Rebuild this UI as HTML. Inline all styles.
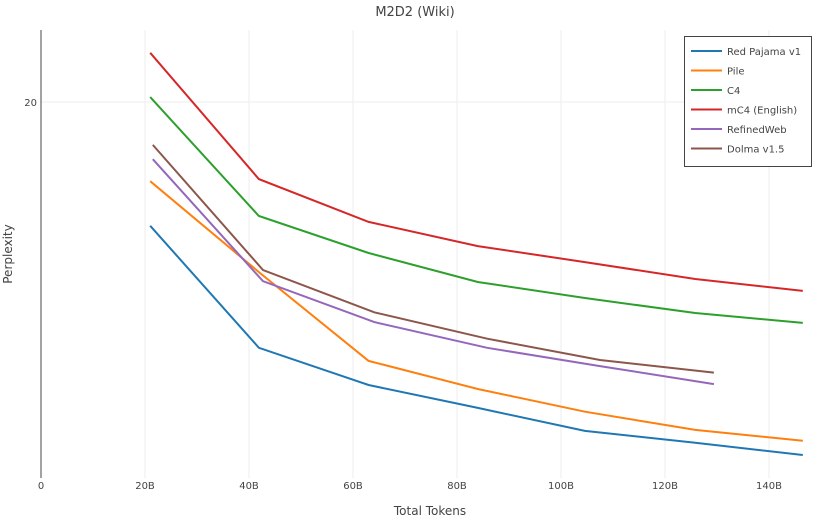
<!DOCTYPE html>
<html><head><meta charset="utf-8"><style>
body{margin:0;background:#fff;font-family:"DejaVu Sans",sans-serif;}
svg text{font-family:"DejaVu Sans",sans-serif;fill:#444;}
</style></head><body>
<svg id="chart" width="830" height="519"></svg>
<script>
const seriesNames=["Red Pajama v1","Pile","C4","mC4 (English)","RefinedWeb","Dolma v1.5"];
const colors=["#1f77b4","#ff7f0e","#2ca02c","#d62728","#9467bd","#8c564b"];
const xStd=[21,41.9,63,84,104.6,125.8,146.5];
const xShort=[21.5,42.7,64.1,85.8,107.5,129.4];
const rpVals=[15.77,12.48,11.62,11.12,10.64,10.40,10.16];
const pileVals=[17.18,14.43,12.17,11.53,11.04,10.66,10.44];
const c4Vals=[20.19,16.07,14.97,14.16,13.73,13.34,13.09];
const mc4Vals=[21.98,17.25,15.89,15.17,14.71,14.24,13.92];
const rwVals=[17.92,14.18,13.11,12.48,12.05,11.64];
const dolmaVals=[18.42,14.49,13.36,12.70,12.19,11.90];
const xTicks=[0,20,40,60,80,100,120,140];
const xTickLabels=["0","20B","40B","60B","80B","100B","120B","140B"];
const yTicks=[20];
const yTickLabels=["20"];
const NS="http://www.w3.org/2000/svg";
const svg=document.getElementById('chart');
const X=v=>41+v*5.2;
const Y=v=>102-1200*Math.log10(v/20);
function mk(t,a){const e=document.createElementNS(NS,t);for(const k in a)e.setAttribute(k,a[k]);svg.appendChild(e);return e;}
xTicks.forEach((t,i)=>{
 if(t>0){const g=mk('line',{x1:X(t),x2:X(t),y1:30,y2:478,stroke:'#eee','stroke-width':1});
 
 }
 const l=mk('text',{x:X(t),y:489,'font-size':10,'text-anchor':'middle'});l.textContent=xTickLabels[i];
 
 
});
yTicks.forEach((t,i)=>{
 const g=mk('line',{x1:41,x2:812,y1:Y(t),y2:Y(t),stroke:'#eee','stroke-width':1});
 
 
 const l=mk('text',{x:37,y:Y(t)+4,'font-size':10,'text-anchor':'end'});l.textContent=yTickLabels[i];
 
 
});
const ax=mk('line',{x1:41,x2:41,y1:30,y2:478,stroke:'#444','stroke-width':1});


const allVals=[rpVals,pileVals,c4Vals,mc4Vals,rwVals,dolmaVals];
const allX=[xStd,xStd,xStd,xStd,xShort,xShort];
allVals.forEach((vals,s)=>{
 const pts=vals.map((v,i)=>X(allX[s][i]).toFixed(1)+','+Y(v).toFixed(1)).join(' ');
 const p=mk('polyline',{points:pts,fill:'none',stroke:colors[s],'stroke-width':2});
 
 
});
const t=mk('text',{x:415,y:16,'font-size':13,'text-anchor':'middle'});t.textContent="M2D2 (Wiki)";


const xt=mk('text',{x:430,y:515,'font-size':12,'text-anchor':'middle'});xt.textContent="Total Tokens";


const yt=mk('text',{x:12,y:254,'font-size':12,'text-anchor':'middle',transform:'rotate(-90 12 254)'});yt.textContent="Perplexity";


const lb=mk('rect',{x:684.5,y:36.5,width:127,height:130,fill:'#fff',stroke:'#444','stroke-width':1});


seriesNames.forEach((n,i)=>{
 const y=51+i*19.5;
 const ln=mk('line',{x1:691,x2:722,y1:y,y2:y,stroke:colors[i],'stroke-width':2});
 
 
 const tx=mk('text',{x:727,y:y+4,'font-size':10});tx.textContent=n;
 
 
});
</script>
</body></html>
